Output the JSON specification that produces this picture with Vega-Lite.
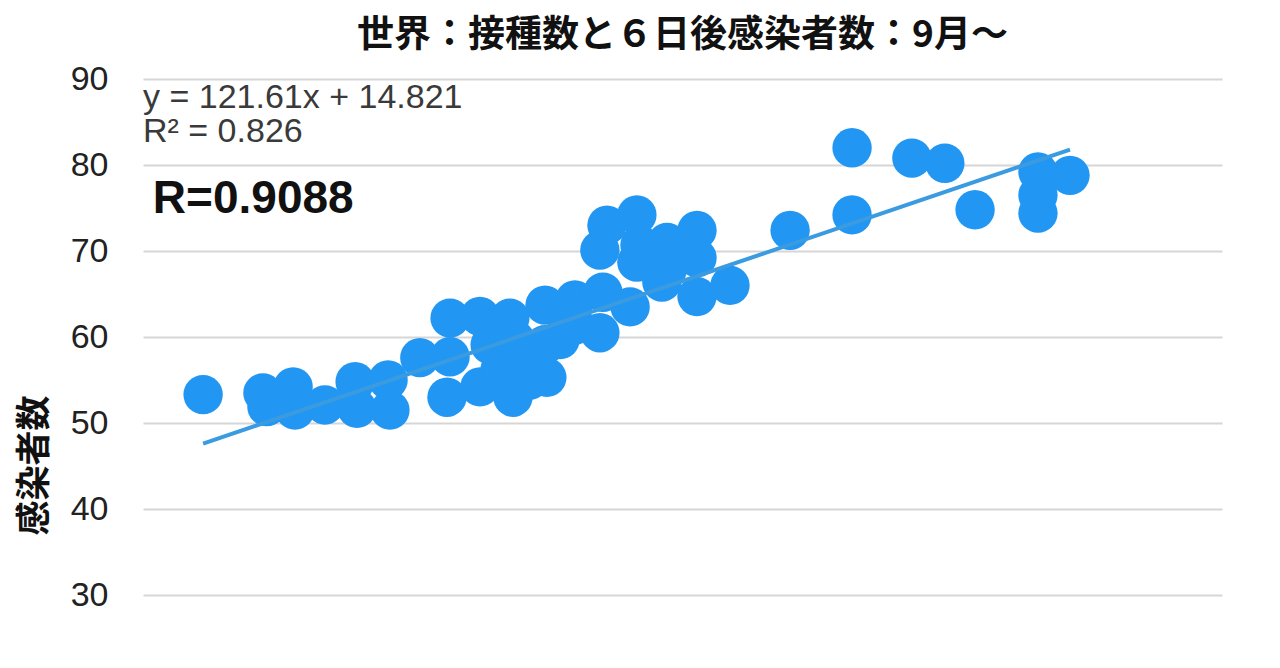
{
  "$schema": "https://vega.github.io/schema/vega-lite/v6.json",
  "autosize": "none",
  "padding": {"left": 143, "top": 79, "right": 58, "bottom": 73},
  "width": 1079,
  "height": 516,
  "background": "white",
  "title": {
    "text": "世界：接種数と６日後感染者数：9月〜",
    "font": "Noto Sans CJK JP",
    "fontSize": 37,
    "fontWeight": "bold",
    "color": "#111111",
    "anchor": "middle",
    "offset": 7
  },
  "datasets": {
    "points": [
      {"vaccinated": 0.2695, "cases": 53.3},
      {"vaccinated": 0.2889, "cases": 53.5},
      {"vaccinated": 0.2902, "cases": 51.9},
      {"vaccinated": 0.2987, "cases": 54.2},
      {"vaccinated": 0.2993, "cases": 51.5},
      {"vaccinated": 0.309, "cases": 52.1},
      {"vaccinated": 0.3188, "cases": 54.8},
      {"vaccinated": 0.3194, "cases": 51.7},
      {"vaccinated": 0.3295, "cases": 55.0},
      {"vaccinated": 0.3301, "cases": 51.5},
      {"vaccinated": 0.3398, "cases": 57.6},
      {"vaccinated": 0.3486, "cases": 53.0},
      {"vaccinated": 0.3496, "cases": 57.7},
      {"vaccinated": 0.3496, "cases": 62.2},
      {"vaccinated": 0.3593, "cases": 62.4},
      {"vaccinated": 0.3593, "cases": 54.2},
      {"vaccinated": 0.3626, "cases": 59.1},
      {"vaccinated": 0.3658, "cases": 56.2},
      {"vaccinated": 0.369, "cases": 62.2},
      {"vaccinated": 0.37, "cases": 53.0},
      {"vaccinated": 0.3707, "cases": 59.7},
      {"vaccinated": 0.3723, "cases": 57.7},
      {"vaccinated": 0.3755, "cases": 55.0},
      {"vaccinated": 0.3804, "cases": 63.7},
      {"vaccinated": 0.381, "cases": 55.3},
      {"vaccinated": 0.3804, "cases": 59.1},
      {"vaccinated": 0.3853, "cases": 59.7},
      {"vaccinated": 0.3901, "cases": 64.3},
      {"vaccinated": 0.3901, "cases": 61.4},
      {"vaccinated": 0.3982, "cases": 60.5},
      {"vaccinated": 0.3992, "cases": 65.2},
      {"vaccinated": 0.4005, "cases": 73.0},
      {"vaccinated": 0.3982, "cases": 70.1},
      {"vaccinated": 0.4102, "cases": 74.2},
      {"vaccinated": 0.408, "cases": 63.5},
      {"vaccinated": 0.4102, "cases": 68.7},
      {"vaccinated": 0.4112, "cases": 70.7},
      {"vaccinated": 0.42, "cases": 71.0},
      {"vaccinated": 0.42, "cases": 67.8},
      {"vaccinated": 0.4183, "cases": 66.4},
      {"vaccinated": 0.4297, "cases": 72.4},
      {"vaccinated": 0.4297, "cases": 69.2},
      {"vaccinated": 0.4297, "cases": 64.7},
      {"vaccinated": 0.4404, "cases": 66.0},
      {"vaccinated": 0.4599, "cases": 72.4},
      {"vaccinated": 0.48, "cases": 82.0},
      {"vaccinated": 0.48, "cases": 74.2},
      {"vaccinated": 0.4994, "cases": 80.8},
      {"vaccinated": 0.5101, "cases": 80.2},
      {"vaccinated": 0.5199, "cases": 74.8},
      {"vaccinated": 0.5403, "cases": 79.2},
      {"vaccinated": 0.5507, "cases": 78.8},
      {"vaccinated": 0.5403, "cases": 76.5},
      {"vaccinated": 0.5403, "cases": 74.4}
    ],
    "trend": [
      {"vaccinated": 0.2695, "cases": 47.6},
      {"vaccinated": 0.5507, "cases": 81.8}
    ],
    "notes": [
      {"vaccinated": 0.25, "cases": 87.8, "label": "y = 121.61x + 14.821"},
      {"vaccinated": 0.25, "cases": 83.8, "label": "R² = 0.826"}
    ],
    "corr": [
      {"vaccinated": 0.2532, "cases": 76.0, "label": "R=0.9088"}
    ]
  },
  "layer": [
    {
      "data": {"name": "points"},
      "mark": {"type": "circle", "size": 1550, "color": "#2196F3", "opacity": 1},
      "encoding": {
        "x": {
          "field": "vaccinated",
          "type": "quantitative",
          "scale": {"domain": [0.25, 0.6], "nice": false, "zero": false},
          "axis": null
        },
        "y": {
          "field": "cases",
          "type": "quantitative",
          "scale": {"domain": [30, 90], "nice": false, "zero": false},
          "axis": {
            "title": "感染者数",
            "titleFont": "Noto Sans CJK JP",
            "titleFontSize": 35,
            "titleFontWeight": "bold",
            "titleColor": "#111111",
            "titleAngle": -90,
            "titleAlign": "center",
            "titleBaseline": "middle",
            "titleX": -109,
            "titleY": 386,
            "values": [30, 40, 50, 60, 70, 80, 90],
            "labelFont": "Liberation Sans",
            "labelFontSize": 34,
            "labelColor": "#222222",
            "labelPadding": 35,
            "ticks": false,
            "domain": false,
            "grid": true,
            "gridColor": "#d6d6d6",
            "gridWidth": 2
          }
        }
      }
    },
    {
      "data": {"name": "trend"},
      "mark": {"type": "line", "color": "#3a9be0", "strokeWidth": 4},
      "encoding": {
        "x": {"field": "vaccinated", "type": "quantitative"},
        "y": {"field": "cases", "type": "quantitative"}
      }
    },
    {
      "data": {"name": "notes"},
      "mark": {
        "type": "text",
        "align": "left",
        "baseline": "middle",
        "font": "Liberation Sans",
        "fontSize": 34,
        "color": "#3a3a3a"
      },
      "encoding": {
        "x": {"field": "vaccinated", "type": "quantitative"},
        "y": {"field": "cases", "type": "quantitative"},
        "text": {"field": "label"}
      }
    },
    {
      "data": {"name": "corr"},
      "mark": {
        "type": "text",
        "align": "left",
        "baseline": "middle",
        "font": "Liberation Sans",
        "fontSize": 46,
        "fontWeight": "bold",
        "color": "#111111"
      },
      "encoding": {
        "x": {"field": "vaccinated", "type": "quantitative"},
        "y": {"field": "cases", "type": "quantitative"},
        "text": {"field": "label"}
      }
    }
  ],
  "config": {
    "view": {"stroke": null}
  }
}
